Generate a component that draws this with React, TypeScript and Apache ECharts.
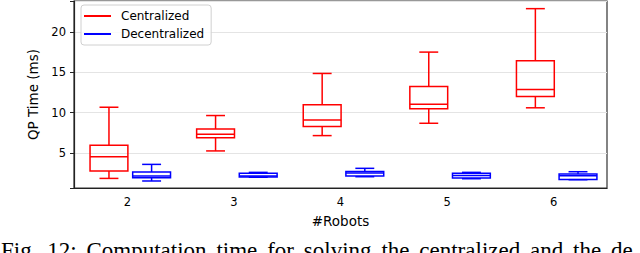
import React, { useEffect, useRef } from "react";
import * as echarts from "echarts";

const categories = ["2", "3", "4", "5", "6"];
const seriesNames = ["Centralized", "Decentralized"];
// [min, q1, median, q3, max] per #Robots
const centralized = [
  [1.84, 2.76, 4.54, 5.95, 10.67],
  [5.25, 6.87, 7.31, 7.98, 9.64],
  [7.15, 8.27, 9.1, 10.97, 14.86],
  [8.68, 10.47, 11.05, 13.25, 17.51],
  [10.6, 12.0, 12.87, 16.44, 22.9],
];
const decentralized = [
  [1.52, 1.93, 2.15, 2.64, 3.58],
  [1.98, 2.02, 2.15, 2.47, 2.59],
  [2.05, 2.15, 2.51, 2.71, 3.09],
  [1.8, 1.9, 2.21, 2.47, 2.59],
  [1.68, 1.72, 2.18, 2.39, 2.67],
];
const yTicks = [5, 10, 15, 20];
const captionWords = ["Fig.", "12:", "Computation", "time", "for", "solving", "the", "centralized", "and", "the", "de"];

// layout (not data)
const FONT = "DejaVu Sans";
const CAPTION_FONT = "23px 'Liberation Serif'";
const CAPTION_START = 1;
const CAPTION_LAST_START = 611;

function captionPositions(): number[] {
  const canvas = document.createElement("canvas");
  const ctx = canvas.getContext("2d");
  const widths = captionWords.map((w) => {
    if (ctx) {
      ctx.font = CAPTION_FONT;
      return ctx.measureText(w).width;
    }
    return w.length * 10;
  });
  const total = widths.slice(0, -1).reduce((a, b) => a + b, 0);
  const gap = (CAPTION_LAST_START - CAPTION_START - total) / (captionWords.length - 1);
  const xs: number[] = [];
  let x = CAPTION_START;
  widths.forEach((w) => {
    xs.push(x);
    x += w + gap;
  });
  return xs;
}

function makeRender(offset: number, color: string) {
  return (params: any, api: any) => {
    const idx = api.value(0);
    const band = api.size([1, 0])[0];
    const cx = api.coord([idx, api.value(3)])[0] + offset * band;
    const bw = band * 0.355;
    const cw = bw / 2;
    const py = (d: number) => api.coord([idx, api.value(d)])[1];
    const yMin = py(1), yQ1 = py(2), yMed = py(3), yQ3 = py(4), yMax = py(5);
    const ls = { stroke: color, lineWidth: 1.5, fill: "none" };
    return {
      type: "group",
      children: [
        { type: "line", shape: { x1: cx, y1: yQ3, x2: cx, y2: yMax }, style: ls },
        { type: "line", shape: { x1: cx, y1: yQ1, x2: cx, y2: yMin }, style: ls },
        { type: "line", shape: { x1: cx - cw / 2, y1: yMax, x2: cx + cw / 2, y2: yMax }, style: ls },
        { type: "line", shape: { x1: cx - cw / 2, y1: yMin, x2: cx + cw / 2, y2: yMin }, style: ls },
        { type: "rect", shape: { x: cx - bw / 2, y: yQ3, width: bw, height: yQ1 - yQ3 }, style: ls },
        { type: "line", shape: { x1: cx - bw / 2, y1: yMed, x2: cx + bw / 2, y2: yMed }, style: ls },
      ],
    };
  };
}

export default function App() {
  const ref = useRef<HTMLDivElement>(null);
  useEffect(() => {
    if (!ref.current) return;
    const chart = echarts.init(ref.current, undefined, { renderer: "svg" });
    const xs = captionPositions();
    const option: any = {
      animation: false,
      textStyle: { fontFamily: FONT },
      grid: { left: 74, right: 33, top: 1, bottom: 65, show: true, borderColor: "#333", borderWidth: 1.2, backgroundColor: "transparent" },
      legend: {
        left: 81,
        top: 5,
        orient: "vertical",
        padding: [4, 7, 4, 3],
        itemWidth: 27,
        itemHeight: 2,
        itemGap: 4,
        backgroundColor: "rgba(255,255,255,0.85)",
        borderColor: "#d0d0d0",
        borderWidth: 1,
        borderRadius: 3,
        textStyle: { fontFamily: FONT, fontSize: 12, lineHeight: 14, color: "#000", padding: [0, 0, 0, 5] },
        data: seriesNames.map((n) => ({ name: n, icon: "rect" })),
      },
      xAxis: {
        type: "category",
        data: categories,
        boundaryGap: true,
        axisLine: { lineStyle: { color: "#222", width: 1.2 } },
        axisTick: { alignWithLabel: true, length: 4, lineStyle: { color: "#222" } },
        axisLabel: { fontFamily: FONT, fontSize: 11.5, color: "#000", margin: 8 },
        splitLine: { show: false },
        name: "#Robots",
        nameLocation: "middle",
        nameGap: 26,
        nameTextStyle: { fontFamily: FONT, fontSize: 13.5, color: "#000" },
      },
      yAxis: {
        type: "value",
        min: 0.65,
        max: 23.85,
        splitNumber: 5,
        axisLine: { show: true, lineStyle: { color: "#222", width: 1.2 } },
        axisTick: {
          show: true,
          length: 4,
          lineStyle: { color: "#222" },
        },
        axisLabel: {
          fontFamily: FONT,
          fontSize: 11.5,
          color: "#000",
          margin: 8,
          formatter: (v: number) => (yTicks.some((t) => Math.abs(t - v) < 1e-6) ? String(v) : ""),
        },
        splitLine: { show: true, lineStyle: { color: "#e4e4e4", width: 1 } },
        name: "QP Time (ms)",
        nameLocation: "middle",
        nameGap: 24,
        nameTextStyle: { fontFamily: FONT, fontSize: 13.5, color: "#000" },
      },
      series: [
        {
          name: seriesNames[0],
          type: "custom",
          itemStyle: { color: "#ff0000" },
          renderItem: makeRender(-0.172, "#ff0000"),
          encode: { x: 0, y: [1, 2, 3, 4, 5] },
          data: centralized.map((r, i) => [i, ...r]),
          z: 3,
        },
        {
          name: seriesNames[1],
          type: "custom",
          itemStyle: { color: "#0000ff" },
          renderItem: makeRender(0.228, "#0000ff"),
          encode: { x: 0, y: [1, 2, 3, 4, 5] },
          data: decentralized.map((r, i) => [i, ...r]),
          z: 3,
        },
      ],
      graphic: captionWords.map((w, i) => ({
        type: "text",
        x: xs[i],
        y: 250.5,
        style: {
          text: w,
          fontFamily: "Liberation Serif",
          fontSize: 23,
          fill: "#000",
          textAlign: "left",
          verticalAlign: "middle",
          textVerticalAlign: "middle",
        },
      })),
    };
    chart.setOption(option);
    return () => chart.dispose();
  }, []);
  return (
    <div
      ref={ref}
      style={{ position: "fixed", left: 0, top: 0, width: 640, height: 253, background: "#fff" }}
    />
  );
}
